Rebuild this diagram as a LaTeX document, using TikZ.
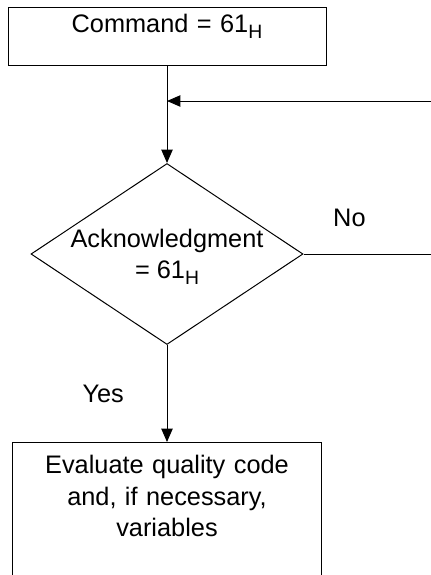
\documentclass[tikz,border=0pt]{standalone}
\usepackage{fontspec}
\setmainfont{Liberation Sans}
\usetikzlibrary{arrows.meta,positioning,shapes.geometric}

\newcommand{\subH}{\raisebox{-4.5pt}{\fontsize{14.5}{14.5}\selectfont H}}

\begin{document}
\begin{tikzpicture}[x=0.75pt,y=-0.75pt,>={Triangle[length=10pt,width=8.5pt]},
    node distance=72.75pt,line width=0.75pt,
    every node/.style={font=\fontsize{19}{23.5}\selectfont},
    procbox/.style={draw,rectangle,inner sep=0pt,align=center},
    decision/.style={draw,diamond,inner sep=0pt,minimum width=204pt,minimum height=135.75pt},
    flowlabel/.style={inner sep=0pt},
    flow/.style={->}]
  \useasboundingbox (0,0) rectangle (431,575);

  \node[procbox,text width=238.5pt,text height=18.75pt,text depth=24.75pt,anchor=north]
                     (cmd)  at (167,7) {Command = 61\subH};
  \node[decision]    (ack)  [below=of cmd] {};
  \node[align=center,inner sep=0pt,yshift=-1.9pt] (ackText) at (ack) {Acknowledgment\\= 61\subH};
  \node[procbox,text width=231.75pt,text height=23.5pt,text depth=150pt]
                     (eval) [below=of ack] {Evaluate quality code\\and, if necessary,\\variables};
  \coordinate        (loopIn) at (431,101);

  \draw[flow] (cmd) -- (ack);
  \draw[flow] (loopIn) -- (loopIn -| cmd.south);
  \draw (ack.east) -- node[flowlabel,pos=0.36,above=20pt] {No} (ack.east -| loopIn);
  \draw[flow] (ack) -- node[flowlabel,left=32pt] {Yes} (eval);
\end{tikzpicture}
\end{document}
